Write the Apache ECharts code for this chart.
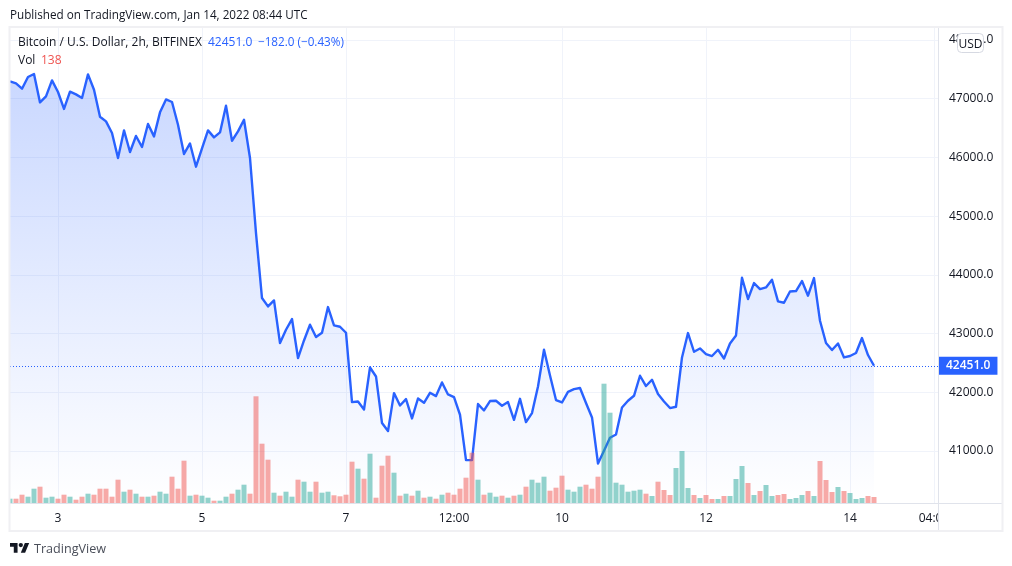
<!DOCTYPE html>
<html>
<head>
<meta charset="utf-8">
<style>
  html, body { margin: 0; padding: 0; background: #fff; }
  #chart { width: 1012px; height: 566px; }
</style>
<script src="https://cdn.jsdelivr.net/npm/echarts@6/dist/echarts.min.js"></script>
</head>
<body>
<div id="chart"></div>
<script>
// BTCUSD 2h bars, first bar Jan 2 2022 08:00 UTC
const startTime = Date.UTC(2022, 0, 2, 8)
const barHours = 2

const closes = [
  47295, 47261, 47170, 47370, 47421, 46937, 47039, 47312, 47114, 46825,
  47119, 47073, 47012, 47414, 47153, 46693, 46613, 46416, 45990, 46460,
  46092, 46365, 46177, 46569, 46358, 46767, 46988, 46944, 46557, 46058,
  46238, 45842, 46153, 46460, 46341, 46426, 46881, 46284, 46443, 46642,
  45990, 44712, 43605, 43462, 43564, 42838, 43065, 43247, 42583, 42882,
  43150, 42940, 43014, 43451, 43138, 43116, 43014, 41833, 41843, 41707,
  42422, 42269, 41475, 41339, 41986, 41775, 41884, 41554, 41894, 41821,
  41991, 41935, 42167, 41963, 41918, 41617, 40845, 40845, 41799, 41690,
  41850, 41855, 41770, 41833, 41531, 41889, 41492, 41646, 42099, 42724,
  42286, 41867, 41826, 42008, 42054, 42072, 41816, 41571, 40787, 41003,
  41225, 41281, 41741, 41855, 41940, 42281, 42106, 42213, 41969, 41843,
  41731, 41753, 42593, 43008, 42690, 42746, 42651, 42617, 42724, 42576,
  42831, 42968, 43951, 43588, 43860, 43758, 43785, 43916, 43547, 43525,
  43717, 43724, 43894, 43644, 43945, 43218, 42838, 42719, 42831, 42593,
  42617, 42668, 42923, 42634, 42451
]

const volumes = [
  99, 99, 191, 145, 329, 375, 122, 145, 99, 191,
  145, 76, 145, 214, 191, 329, 329, 145, 536, 260,
  306, 214, 145, 145, 168, 260, 214, 605, 329, 973,
  168, 191, 168, 122, 53, 53, 145, 214, 306, 421,
  214, 2454, 1364, 996, 237, 168, 260, 145, 536, 490,
  260, 490, 237, 260, 177, 154, 191, 950, 789, 559,
  1134, 122, 858, 1088, 697, 168, 214, 168, 283, 122,
  145, 99, 191, 237, 191, 329, 582, 1157, 536, 191,
  237, 145, 168, 122, 168, 191, 375, 536, 467, 605,
  283, 352, 628, 306, 260, 375, 421, 329, 605, 2744,
  2077, 467, 421, 260, 283, 306, 214, 161, 490, 299,
  184, 805, 1196, 345, 184, 115, 184, 92, 92, 161,
  161, 552, 851, 460, 184, 276, 414, 161, 184, 207,
  92, 115, 184, 276, 161, 966, 529, 253, 368, 276,
  230, 92, 115, 161, 138
]

// g = bar closed up, r = bar closed down
const volumeSides = (
  'grrggrggrr' + 'grrgrrrrrg' + 'rgrgrggrrr' + 'grggrggrgg' +
  'rrrrgrggrg' + 'grggrrrrgr' + 'grrrgrgrgr' + 'grgrrrrrgr' +
  'ggrgrgrggg' + 'rrrgggrrrg' + 'ggggggrgrr' + 'rgggrgrrgr' +
  'gggrgrggrr' + 'gggrgrrrgr' + 'gggrr'
).split('')

const priceTicks = [41000, 42000, 43000, 44000, 45000, 46000, 47000, 48000]

const timeTicks = [
  [Date.UTC(2022, 0, 3), '3'],
  [Date.UTC(2022, 0, 5), '5'],
  [Date.UTC(2022, 0, 7), '7'],
  [Date.UTC(2022, 0, 8, 12), '12:00'],
  [Date.UTC(2022, 0, 10), '10'],
  [Date.UTC(2022, 0, 12), '12'],
  [Date.UTC(2022, 0, 14), '14'],
  [Date.UTC(2022, 0, 15, 4), '04:00']
]

const lastClose = closes[closes.length - 1]
const lastVolume = volumes[volumes.length - 1]
const changeText = '\u2212182.0 (\u22120.43%)'

const timeOf = i => startTime + i * barHours * 3600000
const tickValues = timeTicks.map(t => t[0])
const tickNames = new Map(timeTicks)

const font = '"Open Sans", "Noto Sans", sans-serif'
const textColor = '#131722'
const blue = '#2962ff'
const gridColor = '#f0f3fa'
const borderColor = '#e0e3eb'
const frameColor = '#f0f0f3'

const myChart = echarts.init(document.getElementById('chart'), null, { renderer: 'canvas' })

function label (x, y, text, fill, size, align, z) {
  return {
    type: 'text', x: x, y: y, z: z || 20,
    style: {
      text: text, fill: fill, font: (size || 12) + 'px ' + font,
      textAlign: align || 'left', textVerticalAlign: 'middle'
    }
  }
}
function rule (x1, y1, x2, y2, color, width) {
  return {
    type: 'line', z: 6,
    shape: { x1: x1, y1: y1, x2: x2, y2: y2 },
    style: { stroke: color, lineWidth: width }
  }
}

myChart.setOption({
  backgroundColor: '#fff',
  animation: false,
  textStyle: { fontFamily: font },
  grid: { left: 10, right: 74, top: 27, bottom: 63 },
  xAxis: {
    type: 'value',
    min: timeOf(0),
    max: timeOf(154.667),
    axisLine: { lineStyle: { color: borderColor } },
    axisTick: { show: false, customValues: tickValues },
    axisLabel: {
      customValues: tickValues,
      formatter: v => tickNames.get(v),
      color: textColor, fontSize: 12, margin: 10,
      showMinLabel: true, showMaxLabel: true, hideOverlap: false
    },
    splitLine: { show: true, lineStyle: { color: gridColor } }
  },
  yAxis: [
    {
      type: 'value',
      position: 'right',
      min: 40114,
      max: 48221,
      axisLine: { show: false },
      axisTick: { show: false, customValues: priceTicks },
      axisLabel: {
        customValues: priceTicks,
        formatter: v => v.toFixed(1),
        color: textColor, fontSize: 12, margin: 11,
        padding: [5, 0, 0, 0],
        showMinLabel: true, showMaxLabel: true
      },
      splitLine: { show: true, lineStyle: { color: gridColor } }
    },
    { type: 'value', min: 0, max: 10948, show: false }
  ],
  series: [
    {
      type: 'line',
      name: 'BTCUSD',
      z: 3,
      data: closes.map((v, i) => [timeOf(i), v]),
      showSymbol: false,
      clip: true,
      lineStyle: { color: blue, width: 2.4, join: 'round' },
      itemStyle: { color: blue },
      areaStyle: {
        origin: 'start',
        opacity: 1,
        color: {
          type: 'linear', global: true, x: 0, y: 27, x2: 0, y2: 503,
          colorStops: [
            { offset: 0, color: 'rgba(41,98,255,0.28)' },
            { offset: 1, color: 'rgba(41,98,255,0)' }
          ]
        }
      },
      markLine: {
        silent: true,
        symbol: 'none',
        animation: false,
        data: [{ yAxis: lastClose }],
        lineStyle: { color: blue, type: [1, 2], width: 1 },
        label: {
          position: 'end',
          distance: 0,
          formatter: p => p.value.toFixed(1),
          color: '#fff',
          fontFamily: font,
          fontSize: 12,
          fontWeight: 600,
          backgroundColor: blue,
          padding: [4, 7, 2, 8]
        }
      }
    },
    {
      type: 'bar',
      name: 'Vol',
      yAxisIndex: 1,
      z: 4,
      clip: true,
      barWidth: 5,
      data: volumes.map((v, i) => [timeOf(i), v]),
      itemStyle: {
        color: p => volumeSides[p.dataIndex] === 'g' ? 'rgba(38,166,154,0.5)' : 'rgba(239,83,80,0.5)'
      }
    }
  ],
  graphic: [
    // hides the part of the last time label that runs under the price scale
    { type: 'rect', z: 5, shape: { x: 939, y: 504, width: 62, height: 26 }, style: { fill: '#fff' } },
    // bar clipping leaves one band of slack, so trim the first bar at the frame
    { type: 'rect', z: 5, shape: { x: 0, y: 480, width: 10, height: 24 }, style: { fill: '#fff' } },
    rule(938.5, 27, 938.5, 531, borderColor, 1),
    rule(10, 503.5, 1002, 503.5, borderColor, 1),
    { type: 'rect', z: 6, shape: { x: 9.5, y: 27, width: 993, height: 504 }, style: { fill: 'none', stroke: frameColor, lineWidth: 2 } },
    label(10, 15.5, 'Published on TradingView.com, Jan 14, 2022 08:44 UTC', textColor, 11.7),
    label(18, 42.5, 'Bitcoin / U.S. Dollar, 2h, BITFINEX', textColor),
    label(208, 42.5, lastClose.toFixed(1), blue),
    label(258, 42.5, changeText, blue, 11.7),
    label(18, 60.5, 'Vol', textColor),
    label(41, 60.5, String(lastVolume), '#ef5350'),
    {
      type: 'rect', z: 30,
      shape: { x: 957.5, y: 33.5, width: 26, height: 19, r: 4 },
      style: { fill: '#fff', stroke: '#d6d9e2', lineWidth: 1 }
    },
    label(970.5, 44.5, 'USD', textColor, 12, 'center', 31),
    // TradingView mark
    { type: 'polygon', z: 20, shape: { points: [[17.56, 552.68], [13.78, 552.68], [13.78, 546.74], [10, 546.74], [10, 542.96], [17.56, 542.96]] }, style: { fill: textColor } },
    { type: 'polygon', z: 20, shape: { points: [[25.12, 552.68], [20.8, 552.68], [24.85, 542.96], [29.17, 542.96]] }, style: { fill: textColor } },
    { type: 'circle', z: 20, shape: { cx: 20.8, cy: 545.12, r: 2.16 }, style: { fill: textColor } },
    label(34, 549, 'TradingView', '#4a4e59', 12.6)
  ]
})
</script>
</body>
</html>
